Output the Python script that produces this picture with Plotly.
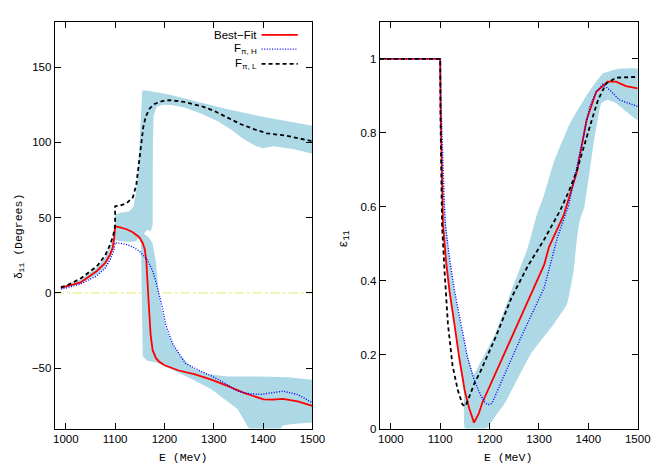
import plotly.graph_objects as go

# ---------------- data ----------------
# Left panel: delta_11 (degrees) vs E (MeV)
E_bf_L = [990, 1000, 1030, 1063, 1080, 1090, 1095, 1098, 1100, 1110, 1123, 1135, 1149, 1156, 1160, 1163, 1166,
          1169, 1172, 1176, 1183, 1189, 1200, 1229, 1262, 1295, 1330, 1361, 1401, 1420, 1440, 1470, 1500]
d_bf_L = [3.3, 4.3, 7.0, 14.6, 20.0, 25.6, 30.0, 36.0, 44.2, 43.5, 42.3, 40.5, 37.0, 33.0, 29.0, 22.0, 8.0,
          -12.0, -28.0, -38.0, -43.5, -45.5, -48.0, -51.5, -54.0, -57.6, -62.0, -66.3, -70.7, -70.8, -70.3, -72.0, -75.0]

E_fh_L = [990, 1000, 1030, 1063, 1080, 1090, 1097, 1100, 1110, 1123, 1136, 1149, 1165, 1176, 1183, 1189, 1196,
          1202, 1216, 1242, 1270, 1295, 1320, 1348, 1370, 1394, 1420, 1440, 1470, 1500]
d_fh_L = [2.6, 3.2, 6.0, 11.4, 16.5, 22.3, 28.0, 33.3, 33.0, 32.2, 30.5, 27.8, 22.0, 14.6, 7.0, 0.0, -10.0,
          -20.4, -33.5, -46.6, -51.5, -55.0, -59.5, -65.2, -66.8, -67.4, -66.0, -65.2, -67.5, -72.9]

E_fl_L = [990, 1000, 1030, 1063, 1080, 1090, 1096, 1099.9, 1100, 1110, 1123, 1136, 1143, 1149, 1153, 1157,
          1162, 1170, 1180, 1195, 1210, 1240, 1275, 1300, 1328, 1355, 1381, 1407, 1447, 1500]
d_fl_L = [3.9, 4.6, 9.6, 17.7, 25.0, 32.2, 38.0, 44.5, 57.5, 58.0, 59.5, 63.5, 72.0, 88.0, 100.0, 110.0,
          117.0, 122.5, 125.5, 127.3, 128.0, 126.8, 124.0, 121.0, 116.4, 112.0, 108.8, 106.0, 104.4, 100.7]

# Left panel uncertainty band, pieces as (upper edge, lower edge)
bandL1_E = [990, 1030, 1063, 1080, 1090, 1096, 1100]
bandL1_hi = [3.8, 9.0, 17.0, 24.0, 31.0, 37.0, 44.5]
bandL1_lo = [2.8, 6.3, 12.0, 17.0, 23.5, 29.0, 34.0]

bandL2_top_E = [1100, 1115, 1128, 1137, 1141, 1145, 1149, 1152, 1155, 1170, 1209, 1275, 1328, 1407, 1500]
bandL2_top = [52.0, 53.5, 54.0, 57.0, 64.0, 75.0, 95.0, 115.0, 134.6, 134.0, 131.8, 126.3, 121.9, 116.4, 111.0]
bandL2_bot_E = [1100, 1120, 1140, 1155, 1165, 1172, 1176, 1176.5, 1178, 1184, 1196, 1215, 1242, 1275, 1308,
                1335, 1361, 1385, 1400, 1421, 1460, 1500]
bandL2_bot = [35.0, 34.0, 34.0, 38.0, 42.0, 41.0, 45.0, 100.0, 118.0, 123.5, 125.0, 124.8, 123.0, 119.0, 114.0,
              108.5, 102.0, 97.5, 96.0, 97.4, 95.5, 92.4]

bandL3_top_E = [1152, 1160, 1168, 1176, 1182, 1186, 1189, 1195, 1202, 1215, 1229, 1245, 1262, 1290, 1328,
                1394, 1450, 1500]
bandL3_top = [40.0, 39.0, 37.0, 33.0, 22.0, 8.0, -1.0, -12.0, -22.5, -33.0, -40.0, -46.0, -51.0, -54.0,
              -55.4, -55.4, -56.0, -57.6]
bandL3_bot_E = [1152, 1154, 1156, 1165, 1182, 1200, 1229, 1260, 1295, 1320, 1348, 1380, 1425, 1440, 1460, 1500]
bandL3_bot = [38.0, 0.0, -42.0, -45.0, -46.0, -48.5, -53.0, -58.0, -64.0, -70.0, -77.0, -95.0, -95.0, -88.0,
              -87.0, -86.0]

# Right panel: epsilon_11 vs E (MeV)
E_bf_R = [978, 1100, 1101, 1103, 1105.7, 1112, 1119, 1129, 1138.7, 1150, 1158.6, 1168.5, 1178, 1185,
          1211.5, 1244, 1277.5, 1310.6, 1320, 1335, 1350, 1376.6, 1396.4, 1416, 1439, 1456, 1476, 1500]
e_bf_R = [1.0, 1.0, 0.85, 0.68, 0.55, 0.45, 0.37, 0.28, 0.19, 0.1, 0.055, 0.016, 0.04, 0.069,
          0.148, 0.248, 0.345, 0.443, 0.49, 0.535, 0.577, 0.693, 0.835, 0.911, 0.938, 0.938, 0.926, 0.92]

E_fh_R = [978, 1100, 1101, 1104, 1108, 1110.5, 1120, 1129, 1142, 1155, 1168.5, 1182, 1190, 1195, 1200, 1205,
          1230, 1264, 1310.6, 1337, 1360, 1383, 1403, 1416, 1429.5, 1443, 1462.5, 1500]
e_fh_R = [1.0, 1.0, 0.9, 0.75, 0.62, 0.55, 0.45, 0.372, 0.283, 0.194, 0.132, 0.09, 0.072, 0.065, 0.065,
          0.069, 0.145, 0.248, 0.381, 0.515, 0.604, 0.746, 0.871, 0.911, 0.931, 0.916, 0.889, 0.871]

E_fl_R = [978, 1100, 1100.5, 1101.5, 1103.7, 1109, 1115.6, 1125, 1135.4, 1145, 1151, 1160, 1170, 1180,
          1211.5, 1244.4, 1277.5, 1310, 1343, 1360, 1376.6, 1403, 1419.6, 1436, 1456, 1500]
e_fl_R = [1.0, 1.0, 0.85, 0.72, 0.55, 0.42, 0.283, 0.17, 0.105, 0.065, 0.06, 0.09, 0.125, 0.15,
          0.245, 0.354, 0.44, 0.51, 0.59, 0.64, 0.697, 0.817, 0.889, 0.933, 0.949, 0.951]

# Right panel band outline (clockwise)
bandR_E = [1101, 1103, 1106, 1112, 1119, 1129, 1139, 1148, 1150, 1194, 1210, 1231, 1284, 1330, 1357,
           1370, 1377, 1383, 1392, 1410, 1426, 1439, 1456, 1500,
           1500, 1462, 1429, 1396, 1363, 1330, 1310, 1295, 1277, 1244, 1211, 1190, 1178, 1168,
           1155, 1142, 1129, 1118, 1110, 1104]
bandR_e = [0.85, 0.68, 0.52, 0.43, 0.36, 0.27, 0.18, 0.1, 0.0, 0.0, 0.03, 0.069, 0.203, 0.283, 0.337,
           0.426, 0.515, 0.565, 0.6, 0.764, 0.88, 0.889, 0.88, 0.835,
           0.973, 0.973, 0.96, 0.9, 0.826, 0.72, 0.63, 0.575, 0.488, 0.372, 0.255, 0.2, 0.17, 0.145,
           0.2, 0.28, 0.37, 0.47, 0.58, 0.75]

x_ticks = [1000, 1100, 1200, 1300, 1400, 1500]
yL_ticks = [-50, 0, 50, 100, 150]
yR_ticks = [0, 0.2, 0.4, 0.6, 0.8, 1.0]

legend_names = ["Best\u2212Fit", "F<sub>\u03c0, H</sub>", "F<sub>\u03c0, L</sub>"]

# ---------------- figure ----------------
BAND = "#add8e6"
RED = "#ff0000"
BLUE = "#0000ff"
BLACK = "#000000"
W, H = 664, 465

fig = go.Figure()


def poly(top_E, top_v, bot_E, bot_v):
    return list(top_E) + list(reversed(bot_E)), list(top_v) + list(reversed(bot_v))


for (tE, tv, bE, bv) in [
    (bandL1_E, bandL1_hi, bandL1_E, bandL1_lo),
    (bandL2_top_E, bandL2_top, bandL2_bot_E, bandL2_bot),
    (bandL3_top_E, bandL3_top, bandL3_bot_E, bandL3_bot),
]:
    px, py = poly(tE, tv, bE, bv)
    fig.add_trace(go.Scatter(x=px, y=py, fill="toself", fillcolor=BAND, mode="lines",
                             line=dict(width=0, color=BAND), hoverinfo="skip", showlegend=False,
                             xaxis="x", yaxis="y"))

fig.add_trace(go.Scatter(x=bandR_E, y=bandR_e, fill="toself", fillcolor=BAND, mode="lines",
                         line=dict(width=0, color=BAND, shape="spline", smoothing=0.3),
                         hoverinfo="skip", showlegend=False, xaxis="x2", yaxis="y2"))

styles = [
    dict(color=RED, width=1.8, dash="solid"),
    dict(color=BLUE, width=1.4, dash="1px,1.6px"),
    dict(color=BLACK, width=1.8, dash="4px,3px"),
]

left_series = [(E_bf_L, d_bf_L), (E_fh_L, d_fh_L), (E_fl_L, d_fl_L)]
right_series = [(E_bf_R, e_bf_R), (E_fh_R, e_fh_R), (E_fl_R, e_fl_R)]

for (xs, ys), st, nm in zip(left_series, styles, legend_names):
    fig.add_trace(go.Scatter(x=xs, y=ys, mode="lines", line=st, name=nm, showlegend=False,
                             xaxis="x", yaxis="y"))
for (xs, ys), st, nm in zip(right_series, styles, legend_names):
    fig.add_trace(go.Scatter(x=xs, y=ys, mode="lines", line=st, name=nm, showlegend=False,
                             xaxis="x2", yaxis="y2"))

# panel geometry (pixels -> paper)
L0, L1 = 46.7 / W, 310.0 / W
R0, R1 = 378.7 / W, 642.3 / W
B0, T0 = (H - 426.0) / H, (H - 14.0) / H

tickfont = dict(family="Liberation Sans, Arial, sans-serif", size=11.5, color="black")
axis_common = dict(showline=True, linecolor="black", linewidth=1, mirror="allticks", ticks="inside",
                   ticklen=6, tickwidth=1, tickcolor="black", showgrid=False, zeroline=False,
                   tickfont=tickfont)

fig.update_layout(
    width=W, height=H, margin=dict(l=0, r=0, t=0, b=0),
    paper_bgcolor="white", plot_bgcolor="white", showlegend=False,
    xaxis=dict(domain=[L0, L1], range=[977.5, 1500], tickvals=x_ticks, anchor="y", **axis_common),
    yaxis=dict(domain=[B0, T0], range=[-90, 180], tickvals=yL_ticks, anchor="x", **axis_common),
    xaxis2=dict(domain=[R0, R1], range=[977.5, 1500], tickvals=x_ticks, anchor="y2", **axis_common),
    yaxis2=dict(domain=[B0, T0], range=[0, 1.1], tickvals=yR_ticks, anchor="x2", **axis_common),
)

# zero axis on left panel (gnuplot style)
fig.add_shape(type="line", xref="x domain", yref="y", x0=0, x1=1, y0=0, y1=0,
              line=dict(color="#e8e870", width=1, dash="dashdot"), layer="below")

mono = "Liberation Mono, Courier New, monospace"
sans = "Liberation Sans, Arial, sans-serif"


def ann(text, xpx, ypx, family, size, angle=0, xanchor="center"):
    fig.add_annotation(text=text, x=xpx / W, y=1 - ypx / H, xref="paper", yref="paper",
                       showarrow=False, textangle=angle, xanchor=xanchor, yanchor="middle",
                       font=dict(family=family, size=size, color="black"))


ann("<span style='font-family:Liberation Sans'>\u03b4</span><sub>11</sub> (Degrees)", 10, 231, mono, 11.5, -90)
ann("\u03b5<sub>11</sub>", 343, 234, mono, 12, -90)
ann("E (MeV)", 178, 455, mono, 11.5)
ann("E (MeV)", 510, 455, mono, 11.5)

# gnuplot-style legend: text right-aligned, sample to the right
leg_rows = [27.3, 41.7, 56.7]
for nm, st, ypx in zip(legend_names, styles, leg_rows):
    ann(nm, 255, ypx, sans, 11.5, 0, xanchor="right")
    fig.add_shape(type="line", xref="paper", yref="paper", x0=258 / W, x1=295 / W,
                  y0=1 - ypx / H, y1=1 - ypx / H, line=st)

fig.write_html("out.html")
